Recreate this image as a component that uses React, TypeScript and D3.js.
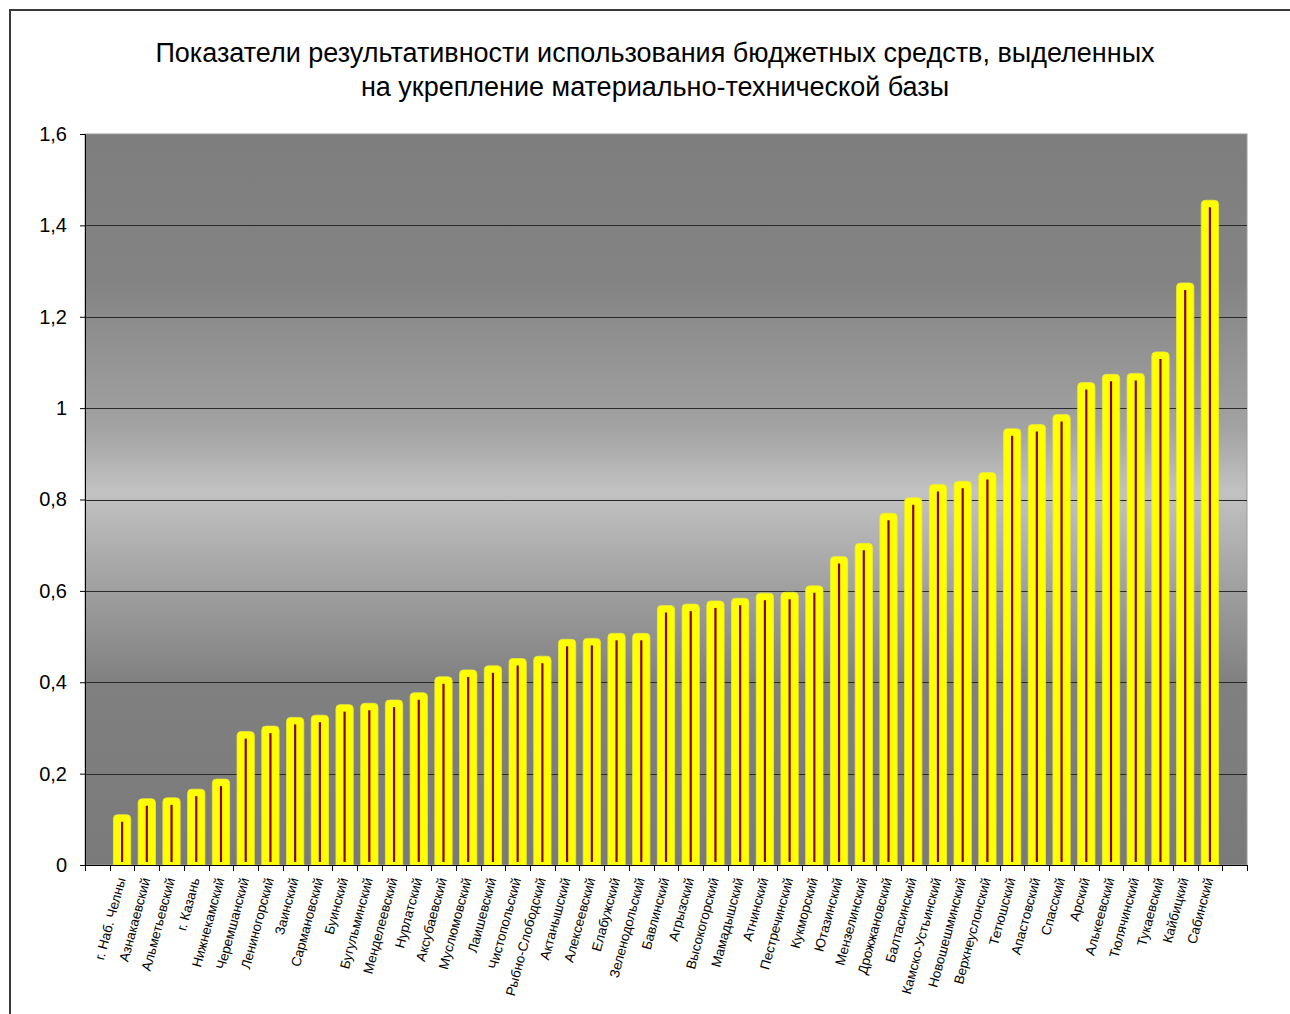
import React, { useEffect, useRef } from "react";
import * as d3 from "d3";

const titleLines = [
  "Показатели результативности использования бюджетных средств, выделенных",
  "на укрепление материально-технической базы",
];

const categories = [
  "г. Наб. Челны", "Азнакаевский", "Альметьевский", "г. Казань", "Нижнекамский",
  "Черемшанский", "Лениногорский", "Заинский", "Сармановский", "Буинский",
  "Бугульминский", "Менделеевский", "Нурлатский", "Аксубаевский", "Муслюмовский",
  "Лаишевский", "Чистопольский", "Рыбно-Слободский", "Актанышский", "Алексеевский",
  "Елабужский", "Зеленодольский", "Бавлинский", "Агрызский", "Высокогорский",
  "Мамадышский", "Атнинский", "Пестречинский", "Кукморский", "Ютазинский",
  "Мензелинский", "Дрожжановский", "Балтасинский", "Камско-Устьинский", "Новошешминский",
  "Верхнеуслонский", "Тетюшский", "Апастовский", "Спасский", "Арский",
  "Алькеевский", "Тюлячинский", "Тукаевский", "Кайбицкий", "Сабинский",
];

const values = [
  0.11, 0.145, 0.147, 0.166, 0.188,
  0.292, 0.304, 0.323, 0.328, 0.351,
  0.354, 0.361, 0.377, 0.412, 0.427,
  0.436, 0.452, 0.457, 0.494, 0.496,
  0.507, 0.507, 0.568, 0.571, 0.578,
  0.584, 0.595, 0.597, 0.611, 0.675,
  0.704, 0.77, 0.804, 0.833, 0.84,
  0.859, 0.955, 0.964, 0.986, 1.056,
  1.074, 1.076, 1.123, 1.274, 1.455,
];

const yTicks = [0, 0.2, 0.4, 0.6, 0.8, 1, 1.2, 1.4, 1.6];

const W = 1290;
const H = 1014;
const plot = { left: 85, top: 134, right: 1247, bottom: 865 };
const font = "Arial, 'Liberation Sans', sans-serif";

export default function App() {
  const ref = useRef<SVGSVGElement>(null);

  useEffect(() => {
    const svg = d3.select(ref.current);
    svg.selectAll("*").remove();

    const inner = 0.3;
    const x = d3.scaleBand<string>()
      .domain(categories)
      .range([plot.left, plot.right])
      .paddingInner(inner)
      .paddingOuter(1 + inner / 2);
    const y = d3.scaleLinear().domain([0, 1.6]).range([plot.bottom, plot.top]);
    const step = x.step();
    const comma = (d: number) => String(d).replace(".", ",");

    // outer frame
    svg.append("rect")
      .attr("x", 10).attr("y", 10)
      .attr("width", W + 20).attr("height", H + 20)
      .attr("fill", "#fff")
      .attr("stroke", "#3a3a3a")
      .attr("stroke-width", 2);

    // background gradient
    const grad = svg.append("defs").append("linearGradient")
      .attr("id", "bg").attr("x1", 0).attr("y1", 0).attr("x2", 0).attr("y2", 1);
    [
      [0, "#7e7e7e"], [0.2, "#838383"], [0.4, "#a2a2a2"], [0.49, "#c2c2c2"],
      [0.62, "#a0a0a0"], [0.75, "#808080"], [1, "#7a7a7a"],
    ].forEach(([o, c]) => grad.append("stop").attr("offset", o as number).attr("stop-color", c as string));

    svg.append("rect")
      .attr("x", plot.left).attr("y", plot.top)
      .attr("width", plot.right - plot.left).attr("height", plot.bottom - plot.top)
      .attr("fill", "url(#bg)")
      .attr("stroke", "#9a9a9a");

    // gridlines
    svg.append("g").selectAll("line")
      .data(yTicks.filter(t => t > 0 && t < 1.6))
      .join("line")
      .attr("x1", plot.left).attr("x2", plot.right)
      .attr("y1", d => Math.round(y(d)) + 0.5).attr("y2", d => Math.round(y(d)) + 0.5)
      .attr("stroke", "#2a2a2a");

    // title
    svg.append("g").selectAll("text")
      .data(titleLines)
      .join("text")
      .attr("x", 655).attr("y", (d, i) => 62 + i * 34)
      .attr("text-anchor", "middle")
      .style("font-family", font).style("font-size", "27px")
      .text(d => d);

    // bars
    const bw = x.bandwidth();
    const r = 4;
    const bars = svg.append("g").selectAll("g")
      .data(categories.map((c, i) => ({ c, v: values[i] })))
      .join("g");
    bars.append("path")
      .attr("d", d => {
        const x0 = x(d.c)!;
        const y0 = y(d.v);
        const yb = y(0);
        return `M${x0},${yb}V${y0 + r}Q${x0},${y0} ${x0 + r},${y0}H${x0 + bw - r}Q${x0 + bw},${y0} ${x0 + bw},${y0 + r}V${yb}Z`;
      })
      .attr("fill", "#ffff00")
      .attr("stroke", "#e8e83a")
      .attr("stroke-width", 0.8);
    bars.append("line")
      .attr("x1", d => x(d.c)! + bw / 2).attr("x2", d => x(d.c)! + bw / 2)
      .attr("y1", d => y(d.v) + 7).attr("y2", y(0) - 3)
      .attr("stroke", "#8c0000")
      .attr("stroke-width", 2.2);

    // y axis
    const yAxis = d3.axisLeft(y).tickValues(yTicks).tickSize(5).tickPadding(13).tickFormat(d => comma(+d));
    const gy = svg.append("g").attr("transform", `translate(${plot.left},0)`).call(yAxis);
    gy.selectAll("text").style("font-family", font).style("font-size", "20px").attr("fill", "#000");
    gy.selectAll("line,path").attr("stroke", "#000");

    // x axis
    const gx = svg.append("g");
    gx.append("line")
      .attr("x1", plot.left).attr("x2", plot.right)
      .attr("y1", y(0) + 0.5).attr("y2", y(0) + 0.5)
      .attr("stroke", "#000");
    const bounds = d3.range(categories.length + 3).map(k => plot.left + k * step);
    gx.selectAll("line.tick")
      .data(bounds)
      .join("line")
      .attr("class", "tick")
      .attr("x1", d => Math.round(d) + 0.5).attr("x2", d => Math.round(d) + 0.5)
      .attr("y1", y(0)).attr("y2", y(0) + 6)
      .attr("stroke", "#000");
    gx.selectAll("text")
      .data(categories)
      .join("text")
      .attr("transform", d => `translate(${x(d)! + bw / 2 - 1},${y(0) + 13}) rotate(-75)`)
      .attr("text-anchor", "end")
      .attr("dy", "0.35em")
      .style("font-family", font).style("font-size", "13.5px")
      .text(d => d);
  }, []);

  return (
    <svg ref={ref} width={W} height={H} style={{ position: "absolute", left: 0, top: 0 }} />
  );
}
